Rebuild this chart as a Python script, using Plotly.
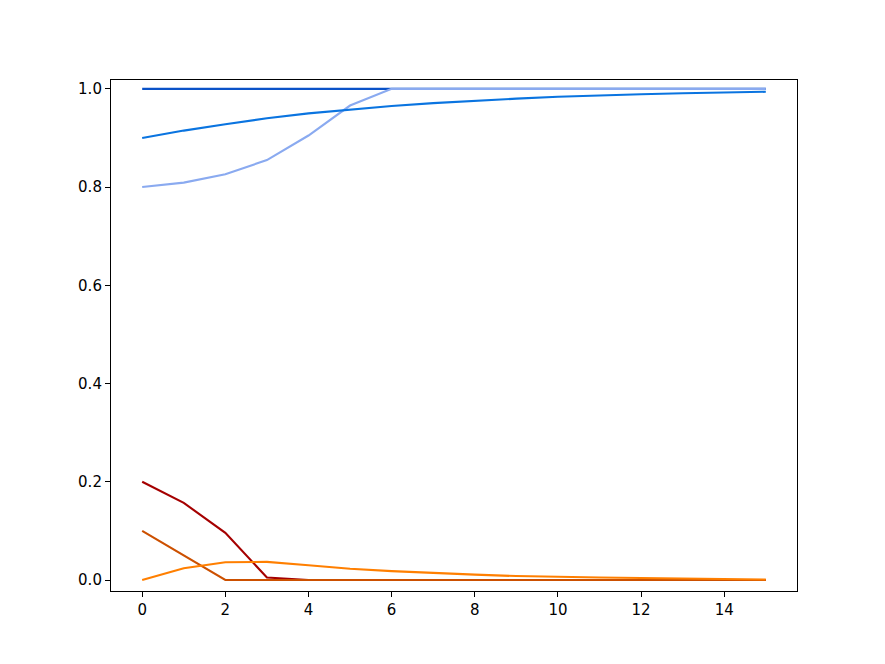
import plotly.graph_objects as go

x = list(range(16))
dark_blue = [1.0] * 16
light_blue = [0.80, 0.809, 0.826, 0.855, 0.905, 0.966, 1.0, 1.0, 1.0, 1.0, 1.0, 1.0, 1.0, 1.0, 1.0, 1.0]
medium_blue = [0.90, 0.915, 0.928, 0.940, 0.950, 0.958, 0.965, 0.971, 0.976, 0.980, 0.984, 0.987, 0.989, 0.991, 0.993, 0.994]
dark_red = [0.20, 0.157, 0.096, 0.005, 0.0, 0.0, 0.0, 0.0, 0.0, 0.0, 0.0, 0.0, 0.0, 0.0, 0.0, 0.0]
dark_orange = [0.10, 0.050, 0.0, 0.0, 0.0, 0.0, 0.0, 0.0, 0.0, 0.0, 0.0, 0.0, 0.0, 0.0, 0.0, 0.0]
orange = [0.0, 0.024, 0.036, 0.037, 0.030, 0.023, 0.018, 0.014, 0.011, 0.008, 0.006, 0.005, 0.004, 0.003, 0.002, 0.001]

series = [
    (dark_blue, "#0a52c8"),
    (light_blue, "#8aaaf0"),
    (medium_blue, "#0a74e0"),
    (dark_red, "#a50000"),
    (dark_orange, "#cc5000"),
    (orange, "#ff7f00"),
]

fig = go.Figure()
for vals, col in series:
    fig.add_trace(go.Scatter(x=x, y=vals, mode="lines", line=dict(color=col, width=2.1), showlegend=False))

axis_common = dict(
    showgrid=False, zeroline=False, showline=True, linecolor="black", linewidth=1.1,
    mirror=True, ticks="outside", ticklen=5, tickwidth=1.1, tickcolor="black",
    tickfont=dict(family="DejaVu Sans", size=15, color="black"),
)
fig.update_xaxes(range=[-0.75, 15.75], tickmode="array", tickvals=[0, 2, 4, 6, 8, 10, 12, 14], **axis_common)
fig.update_yaxes(range=[-0.0224, 1.018], tickmode="array", tickvals=[0.0, 0.2, 0.4, 0.6, 0.8, 1.0],
                 ticktext=["0.0", "0.2", "0.4", "0.6", "0.8", "1.0"], **axis_common)
fig.update_layout(
    width=885, height=664,
    margin=dict(l=103, r=96, t=72, b=81),
    paper_bgcolor="white", plot_bgcolor="white",
)
fig.write_html("out.html")
